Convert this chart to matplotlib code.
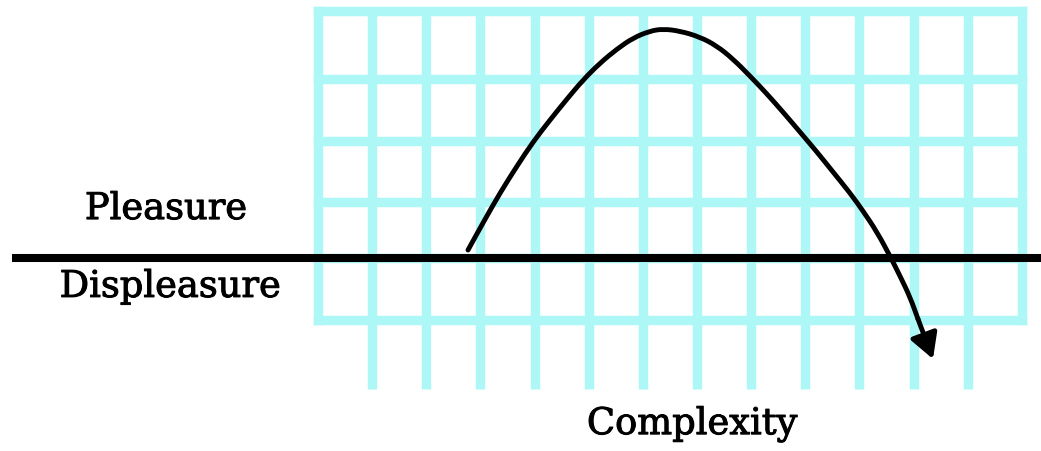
import matplotlib
matplotlib.use("Agg")
import matplotlib.pyplot as plt
import matplotlib.patheffects as pe
from matplotlib.path import Path
from matplotlib.patches import PathPatch

# Hedonic curve: pleasure rises with complexity, peaks, then drops into displeasure
complexity = [2.770, 3.066, 3.361, 3.675, 3.970, 4.284, 4.598, 4.894, 5.208,
              5.522, 5.817, 6.131, 6.371, 6.685, 7.054, 7.368, 7.664, 7.978,
              8.292, 8.587, 8.901, 9.215, 9.511, 9.825, 10.065, 10.323,
              10.563, 10.748, 10.933, 11.080]
pleasure = [0.129, 0.599, 1.052, 1.489, 1.877, 2.233, 2.573, 2.880, 3.155,
            3.382, 3.560, 3.673, 3.706, 3.673, 3.576, 3.430, 3.220, 2.945,
            2.654, 2.362, 2.039, 1.715, 1.392, 1.052, 0.761, 0.421,
            0.032, -0.291, -0.631, -0.987]
arrow_tip = (11.357, -1.634)

# Background grid (columns and rows of the paper)
grid_cols = list(range(14))
grid_rows = [4.0, 2.90, 1.89, 0.91, 0.0, -1.0]
col_bottom_inner = -2.12

labels = {"upper": "Pleasure", "lower": "Displeasure", "axis": "Complexity"}

GRID_COLOR = "#adf7f7"
GRID_LW = 6.8


def smooth_path(xs, ys):
    """Quadratic-Bezier path through the midpoints, using the points as controls."""
    pts = list(zip(xs, ys))
    mid = lambda a, b: ((a[0] + b[0]) / 2, (a[1] + b[1]) / 2)
    verts = [pts[0], mid(pts[0], pts[1])]
    codes = [Path.MOVETO, Path.LINETO]
    for i in range(1, len(pts) - 1):
        verts += [pts[i], mid(pts[i], pts[i + 1])]
        codes += [Path.CURVE3, Path.CURVE3]
    verts.append(pts[-1])
    codes.append(Path.LINETO)
    return Path(verts, codes)


fig = plt.figure(figsize=(10.41, 4.52), dpi=100)
ax = fig.add_axes([0, 0, 1, 1])
ax.set_xlim(-5.873, 13.352)
ax.set_ylim(-3.123, 4.191)
ax.axis("off")

left, right = grid_cols[0], grid_cols[-1]
top, bottom = grid_rows[0], grid_rows[-1]

for y in grid_rows:
    ax.plot([left, right], [y, y], color=GRID_COLOR, lw=GRID_LW,
            solid_capstyle="projecting", zorder=1)
for x in grid_cols:
    y_end = bottom if x in (left, right) else col_bottom_inner
    ax.plot([x, x], [top, y_end], color=GRID_COLOR, lw=GRID_LW,
            solid_capstyle="projecting" if x in (left, right) else "butt", zorder=1)

# Neutral line between pleasure and displeasure
ax.plot([-5.65, 13.352], [0, 0], color="black", lw=5.8, solid_capstyle="butt", zorder=2)

# The curve with its arrowhead
ax.add_patch(PathPatch(smooth_path(complexity, pleasure), facecolor="none",
                       edgecolor="black", lw=3.5, capstyle="round",
                       joinstyle="round", zorder=3))
ax.annotate("", xy=arrow_tip, xytext=(complexity[-1], pleasure[-1]),
            arrowprops=dict(arrowstyle="-|>,head_length=0.75,head_width=0.42",
                            mutation_scale=20, lw=3.5, color="black",
                            shrinkA=0, shrinkB=0),
            zorder=3)

font = dict(family="DejaVu Serif", fontsize=26.5, color="black",
            path_effects=[pe.withStroke(linewidth=0.7, foreground="black")])
ax.text(-2.81, 0.63, labels["upper"], ha="center", va="baseline", **font)
ax.text(-2.73, -0.63, labels["lower"], ha="center", va="baseline", **font)
ax.text(6.91, -2.85, labels["axis"], ha="center", va="baseline", **font)

fig.savefig("out.png", dpi=100, facecolor="white")
